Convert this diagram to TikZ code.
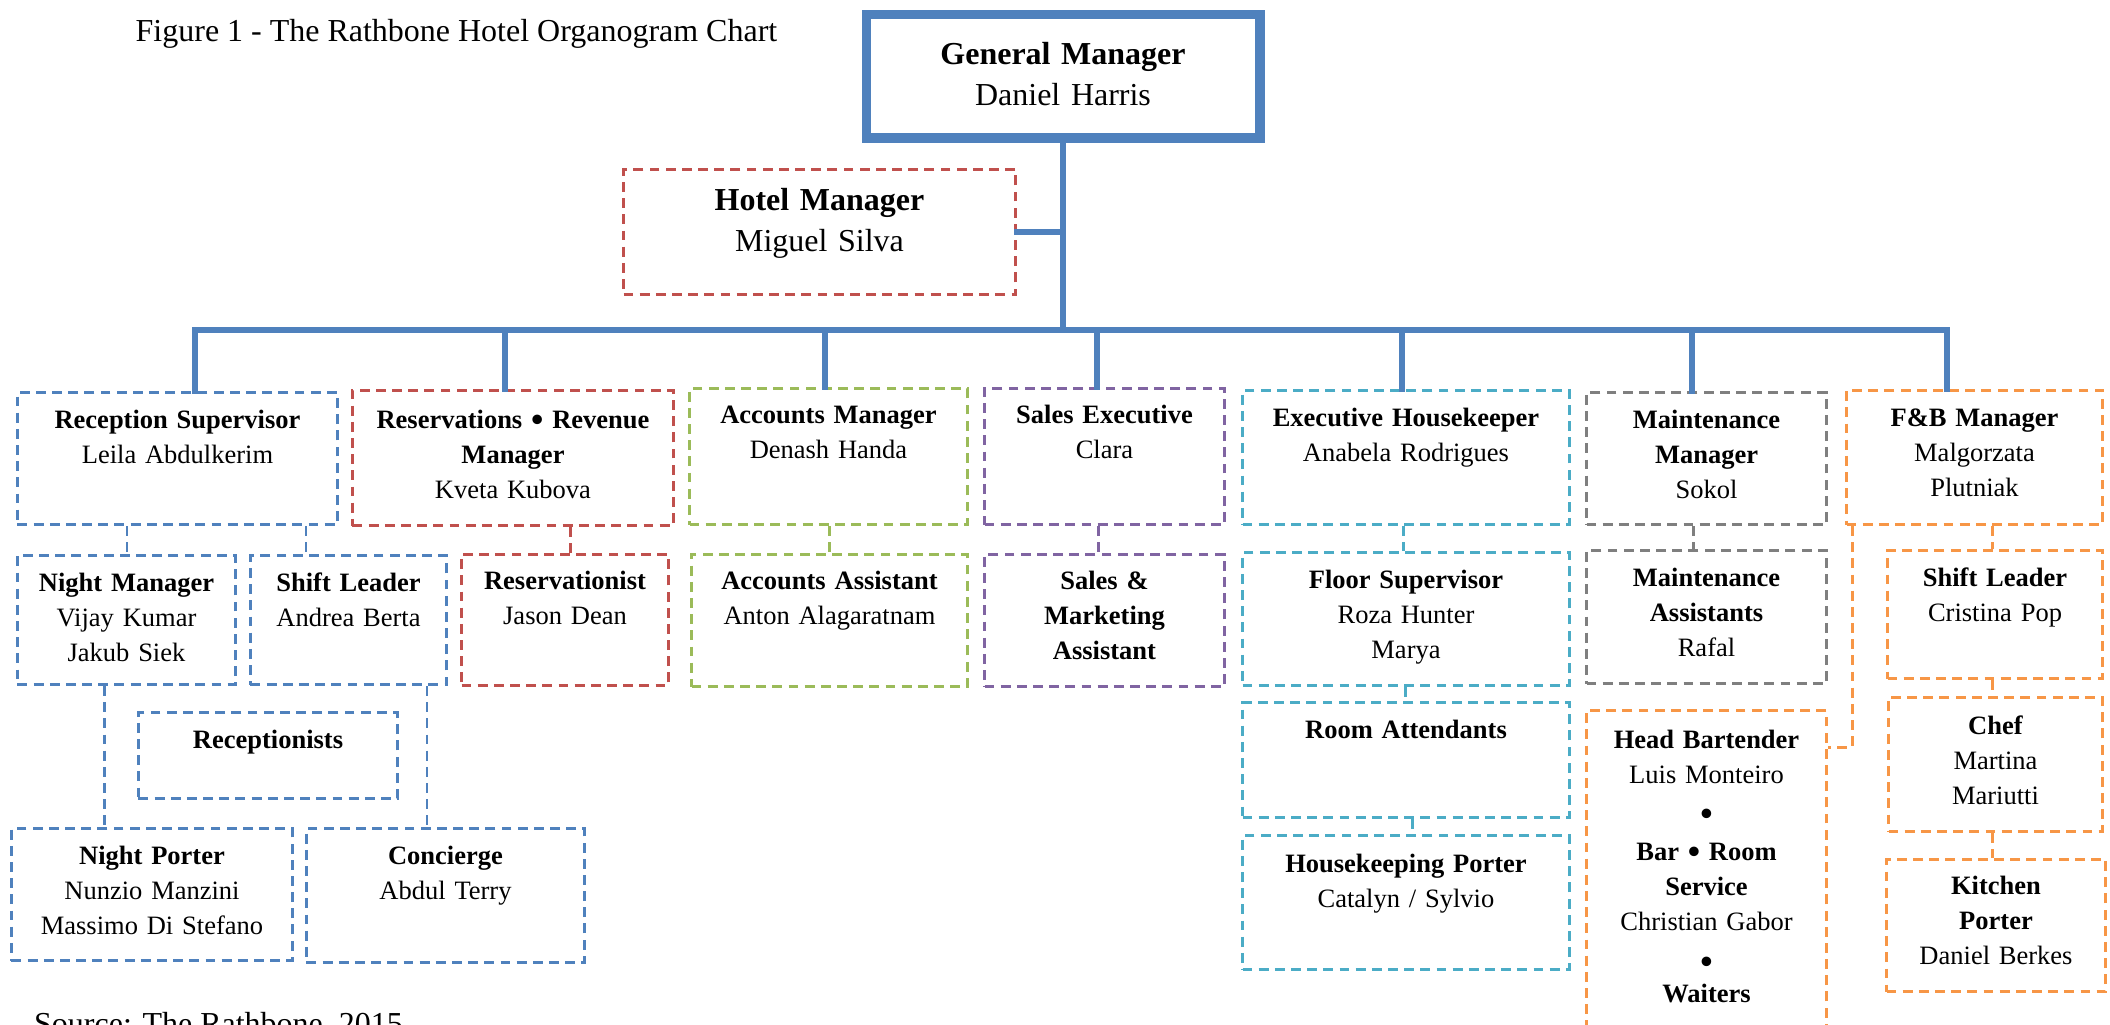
\documentclass[tikz,border=0pt]{standalone}
\usepackage{fontspec}
\setmainfont{Liberation Serif}
\usepackage{tikz}
\usetikzlibrary{positioning}

\definecolor{bluec}{HTML}{4F81BD}
\definecolor{redc}{HTML}{C0504D}
\definecolor{greenc}{HTML}{9BBB59}
\definecolor{purplec}{HTML}{8064A2}
\definecolor{cyanc}{HTML}{4BACC6}
\definecolor{grayc}{HTML}{7F7F7F}
\definecolor{orangec}{HTML}{F79646}

\newcommand{\boxfont}{\fontsize{7.54}{9.96}\selectfont}
\newcommand{\bigfont}{\fontsize{9.1}{11.67}\selectfont}
\newcommand{\bul}{\raisebox{-0.8pt}{\fontsize{10}{9.96}\selectfont\textbf{•}}}

\tikzset{
  orgbox/.style={draw, line width=0.85pt, dash pattern=on 2.8pt off 1.8pt,
    anchor=north west, inner sep=0pt, align=center, font=\boxfont},
  gmbox/.style={draw=bluec, line width=2.56pt, anchor=north west,
    inner sep=0pt, align=center, font=\bigfont},
  bus/.style={draw=bluec, line width=1.7pt, line cap=rect},
  link/.style={line width=0.85pt, dash pattern=on 2.8pt off 1.8pt},
}

\begin{document}
\begin{tikzpicture}

  \useasboundingbox (0,0) rectangle (21.10,-10.24);

  \node [anchor=base west, inner sep=0pt, font=\bigfont] (title) at (1.35,-0.41)
    {Figure 1 - The Rathbone Hotel Organogram Chart};
  \node [anchor=base west, inner sep=0pt, font=\bigfont] (source) at (0.335,-10.34)
    {Source: The Rathbone, 2015};

  % top
  \node [gmbox, text width=3.94cm, text height=0.505cm, text depth=0.735cm] (gm) at (8.615,-0.095)
    {\textbf{General Manager}\\Daniel Harris};
  \draw [bluec, line width=0.7pt] ([shift={(0.08,-0.08)}]gm.north west) rectangle ([shift={(-0.08,0.08)}]gm.south east);

  \node [orgbox, draw=redc, font=\bigfont, text width=3.92cm, text height=0.41cm, text depth=0.84cm] (hm) at (6.22,-1.68)
    {\textbf{Hotel Manager}\\Miguel Silva};

  % first row
  \node [orgbox, draw=bluec, text width=3.20cm, text height=0.36cm, text depth=0.96cm] (rs) at (0.16,-3.91)
    {\textbf{Reception Supervisor}\\Leila Abdulkerim};
  \node [orgbox, draw=redc, text width=3.21cm, text height=0.38cm, text depth=0.97cm] (rrm) at (3.51,-3.89)
    {\textbf{Reservations \bul{} Revenue}\\\textbf{Manager}\\Kveta Kubova};
  \node [orgbox, draw=greenc, text width=2.78cm, text height=0.35cm, text depth=1.01cm] (am) at (6.88,-3.87)
    {\textbf{Accounts Manager}\\Denash Handa};
  \node [orgbox, draw=purplec, text width=2.40cm, text height=0.35cm, text depth=1.01cm] (se) at (9.83,-3.87)
    {\textbf{Sales Executive}\\Clara};
  \node [orgbox, draw=cyanc, text width=3.27cm, text height=0.36cm, text depth=0.98cm] (eh) at (12.41,-3.89)
    {\textbf{Executive Housekeeper}\\Anabela Rodrigues};
  \node [orgbox, draw=grayc, text width=2.40cm, text height=0.36cm, text depth=0.96cm] (mm) at (15.85,-3.91)
    {\textbf{Maintenance}\\\textbf{Manager}\\Sokol};
  \node [orgbox, draw=orangec, text width=2.56cm, text height=0.36cm, text depth=0.98cm] (fb) at (18.45,-3.89)
    {\textbf{F\&B Manager}\\Malgorzata\\Plutniak};

  % second row
  \node [orgbox, draw=bluec, text width=2.18cm, text height=0.36cm, text depth=0.93cm] (nm) at (0.16,-5.54)
    {\textbf{Night Manager}\\Vijay Kumar\\Jakub Siek};
  \node [orgbox, draw=bluec, text width=1.96cm, text height=0.36cm, text depth=0.93cm] (sl) at (2.49,-5.54)
    {\textbf{Shift Leader}\\Andrea Berta};
  \node [orgbox, draw=redc, text width=2.07cm, text height=0.35cm, text depth=0.96cm] (rv) at (4.60,-5.53)
    {\textbf{Reservationist}\\Jason Dean};
  \node [orgbox, draw=greenc, text width=2.76cm, text height=0.35cm, text depth=0.97cm] (aa) at (6.90,-5.53)
    {\textbf{Accounts Assistant}\\Anton Alagaratnam};
  \node [orgbox, draw=purplec, text width=2.40cm, text height=0.35cm, text depth=0.97cm] (sma) at (9.83,-5.53)
    {\textbf{Sales \&}\\\textbf{Marketing}\\\textbf{Assistant}};
  \node [orgbox, draw=cyanc, text width=3.27cm, text height=0.36cm, text depth=0.97cm] (fs) at (12.41,-5.51)
    {\textbf{Floor Supervisor}\\Roza Hunter\\Marya};
  \node [orgbox, draw=grayc, text width=2.40cm, text height=0.36cm, text depth=0.97cm] (ma) at (15.85,-5.49)
    {\textbf{Maintenance}\\\textbf{Assistants}\\Rafal};
  \node [orgbox, draw=orangec, text width=2.15cm, text height=0.36cm, text depth=0.92cm] (fsl) at (18.86,-5.49)
    {\textbf{Shift Leader}\\Cristina Pop};

  % lower boxes
  \node [orgbox, draw=bluec, text width=2.59cm, text height=0.36cm, text depth=0.50cm] (rc) at (1.37,-7.11)
    {\textbf{Receptionists}};
  \node [orgbox, draw=bluec, text width=2.81cm, text height=0.36cm, text depth=0.96cm] (np) at (0.10,-8.27)
    {\textbf{Night Porter}\\Nunzio Manzini\\Massimo Di Stefano};
  \node [orgbox, draw=bluec, text width=2.78cm, text height=0.36cm, text depth=0.98cm] (cc) at (3.05,-8.27)
    {\textbf{Concierge}\\Abdul Terry};
  \node [orgbox, draw=cyanc, text width=3.27cm, text height=0.36cm, text depth=0.79cm] (ra) at (12.41,-7.01)
    {\textbf{Room Attendants}};
  \node [orgbox, draw=cyanc, text width=3.27cm, text height=0.37cm, text depth=0.97cm] (hp) at (12.41,-8.34)
    {\textbf{Housekeeping Porter}\\Catalyn / Sylvio};
  \node [orgbox, draw=orangec, text width=2.40cm, text height=0.38cm, text depth=3.20cm] (hb) at (15.85,-7.09)
    {\textbf{Head Bartender}\\Luis Monteiro\\[1.3pt]\bul\\[0.8pt]\textbf{Bar \bul{} Room}\\\textbf{Service}\\Christian Gabor\\[1.3pt]\bul\\[-0.9pt]\textbf{Waiters}};
  \node [orgbox, draw=orangec, text width=2.14cm, text height=0.37cm, text depth=0.97cm] (ch) at (18.87,-6.96)
    {\textbf{Chef}\\Martina\\Mariutti};
  \node [orgbox, draw=orangec, text width=2.19cm, text height=0.35cm, text depth=0.97cm] (kp) at (18.85,-8.58)
    {\textbf{Kitchen}\\\textbf{Porter}\\Daniel Berkes};

  % solid lines
  \coordinate (b1) at (1.95,-3.30);
  \coordinate (b2) at (5.05,-3.30);
  \coordinate (b3) at (8.25,-3.30);
  \coordinate (b4) at (10.97,-3.30);
  \coordinate (b5) at (14.02,-3.30);
  \coordinate (b6) at (16.92,-3.30);
  \coordinate (b7) at (19.47,-3.30);

  \draw [bus] (gm.south) -- (gm.south |- b1);
  \draw [bus] (hm.east) -- (hm.east -| gm.south);
  \draw [bus] (b1) -- (b7);
  \foreach \b/\n in {b1/rs,b2/rrm,b3/am,b4/se,b5/eh,b6/mm,b7/fb}
    \draw [bus] (\b) -- (\b |- \n.north);

  % dashed lines
  \draw [link, bluec] (1.27,0 |- rs.south) -- (1.27,0 |- nm.north);
  \draw [link, bluec] (3.06,0 |- rs.south) -- (3.06,0 |- sl.north);
  \draw [link, bluec] (1.045,0 |- nm.south) -- (1.045,0 |- np.north);
  \draw [link, bluec] (4.27,0 |- sl.south) -- (4.27,0 |- cc.north);
  \draw [link, redc] (5.70,0 |- rrm.south) -- (5.70,0 |- rv.north);
  \draw [link, greenc] (8.29,0 |- am.south) -- (8.29,0 |- aa.north);
  \draw [link, purplec] (10.98,0 |- se.south) -- (10.98,0 |- sma.north);
  \draw [link, cyanc] (14.03,0 |- eh.south) -- (14.03,0 |- fs.north);
  \draw [link, cyanc] (14.05,0 |- fs.south) -- (14.05,0 |- ra.north);
  \draw [link, cyanc] (14.12,0 |- ra.south) -- (14.12,0 |- hp.north);
  \draw [link, grayc] (16.93,0 |- mm.south) -- (16.93,0 |- ma.north);
  \draw [link, orangec] (19.92,0 |- fb.south) -- (19.92,0 |- fsl.north);
  \draw [link, orangec] (19.92,0 |- fsl.south) -- (19.92,0 |- ch.north);
  \draw [link, orangec] (19.92,0 |- ch.south) -- (19.92,0 |- kp.north);

  \coordinate (hbR) at ([yshift=-0.38cm]hb.north east);
  \draw [link, orangec] (18.52,0 |- fb.south) |- (hbR);

\end{tikzpicture}
\end{document}
